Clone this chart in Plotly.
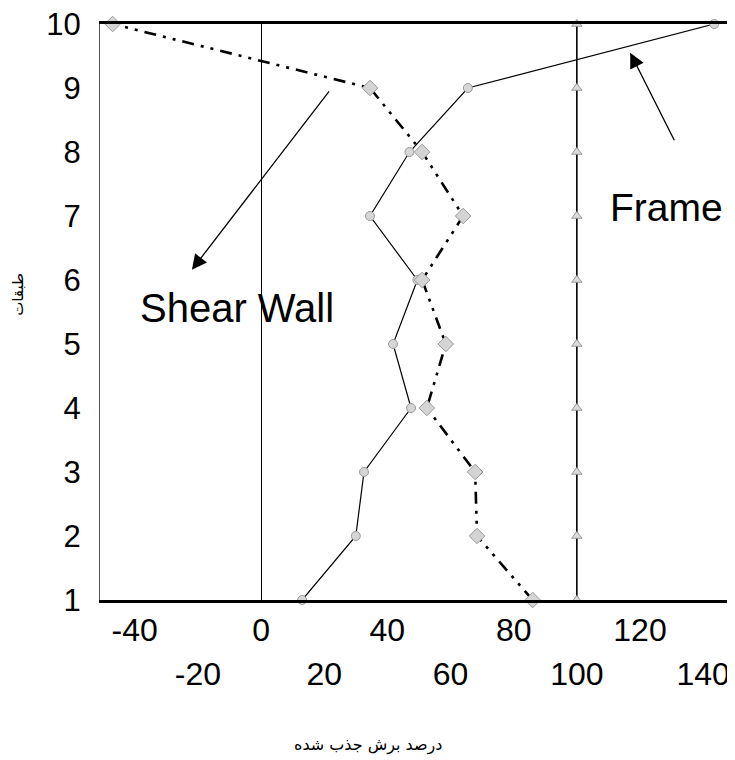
import plotly.graph_objects as go

stories = [1, 2, 3, 4, 5, 6, 7, 8, 9, 10]
frame = [13, 30, 32.6, 47.5, 41.8, 49.5, 34.5, 47, 65.5, 143.5]
shear_wall = [86, 68.4, 67.8, 52.5, 58.5, 51, 64, 51, 34.5, -47]
total = [100, 100, 100, 100, 100, 100, 100, 100, 100, 100]

ticks_row1 = [-40, 0, 40, 80, 120]
ticks_row2 = [-20, 20, 60, 100, 140]
y_ticks = [1, 2, 3, 4, 5, 6, 7, 8, 9, 10]

x_title = "درصد برش جذب شده"
y_title = "طبقات"

XR = [-51, 148.5]
YR = [1, 10]
FONT = "Liberation Sans, Arial, sans-serif"

fig = go.Figure()

fig.add_trace(go.Scatter(
    x=frame, y=stories, mode="lines+markers", name="Frame",
    line=dict(color="black", width=1.2),
    marker=dict(symbol="circle", size=9, color="#d6d6d6",
                line=dict(color="#9a9a9a", width=1)),
    cliponaxis=False,
))
fig.add_trace(go.Scatter(
    x=shear_wall, y=stories, mode="lines+markers", name="Shear Wall",
    line=dict(color="black", width=2.6, dash="12px,7px,3px,7px,3px,7px"),
    marker=dict(symbol="diamond", size=12, color="#d4d4d4",
                line=dict(color="#999999", width=1)),
    cliponaxis=False,
))
fig.add_trace(go.Scatter(
    x=total, y=stories, mode="lines+markers", name="Total",
    xaxis="x2",
    line=dict(color="black", width=1.6),
    marker=dict(symbol="triangle-up", size=9, color="#dadada",
                line=dict(color="#9a9a9a", width=1)),
    cliponaxis=False,
))

# Arrows and labels
fig.add_annotation(x=116.9, y=9.55, ax=131.1, ay=8.16, xref="x", yref="y",
                   axref="x", ayref="y", text="", showarrow=True,
                   arrowhead=2, arrowsize=2.3, arrowwidth=1.3, arrowcolor="black")
fig.add_annotation(x=128.5, y=7.14, xref="x", yref="y", text="Frame", showarrow=False,
                   font=dict(family=FONT, size=39, color="black"))
fig.add_annotation(x=-21.9, y=6.16, ax=21.9, ay=8.97, xref="x", yref="y",
                   axref="x", ayref="y", text="", showarrow=True,
                   arrowhead=2, arrowsize=2.3, arrowwidth=1.3, arrowcolor="black")
fig.add_annotation(x=-7.5, y=5.56, xref="x", yref="y", text="Shear Wall", showarrow=False,
                   font=dict(family=FONT, size=40, color="black"))

# Axis titles (placed as in the reference, off-centre)
fig.add_annotation(x=0.425, y=-0.252, xref="paper", yref="paper", text=x_title,
                   showarrow=False, xanchor="center", yanchor="middle",
                   font=dict(family="DejaVu Sans", size=16, color="black"))
fig.add_annotation(x=-0.130, y=0.53, xref="paper", yref="paper", text=y_title,
                   showarrow=False, textangle=-90, xanchor="center", yanchor="middle",
                   font=dict(family="DejaVu Sans", size=15, color="black"))

fig.update_layout(
    width=727, height=752,
    margin=dict(l=92, r=5, t=16, b=160),
    paper_bgcolor="white", plot_bgcolor="white",
    showlegend=False,
    font=dict(family=FONT, color="black"),
    xaxis=dict(
        range=XR, tickvals=ticks_row1, ticktext=[str(v) for v in ticks_row1],
        tickfont=dict(size=32, family=FONT), ticks="", showgrid=False,
        showline=True, linecolor="black", linewidth=2.5, mirror=True,
        zeroline=True, zerolinecolor="black", zerolinewidth=1,
        ticklabelstandoff=0, automargin=False, ticklabeloverflow="allow",
    ),
    xaxis2=dict(
        range=XR, overlaying="x", anchor="y", side="bottom",
        tickvals=ticks_row2, ticktext=[str(v) for v in ticks_row2],
        tickfont=dict(size=32, family=FONT), ticks="", showgrid=False,
        showline=False, zeroline=False, ticklabelstandoff=52, automargin=False,
        ticklabeloverflow="allow",
    ),
    yaxis=dict(
        range=YR, tickvals=y_ticks, ticks="", showgrid=False,
        tickfont=dict(size=31, family=FONT),
        showline=True, linecolor="#555555", linewidth=1.2, mirror=False,
        zeroline=False, ticklabelstandoff=12, automargin=False,
        ticklabeloverflow="allow",
    ),
)

fig.write_html("out.html")
